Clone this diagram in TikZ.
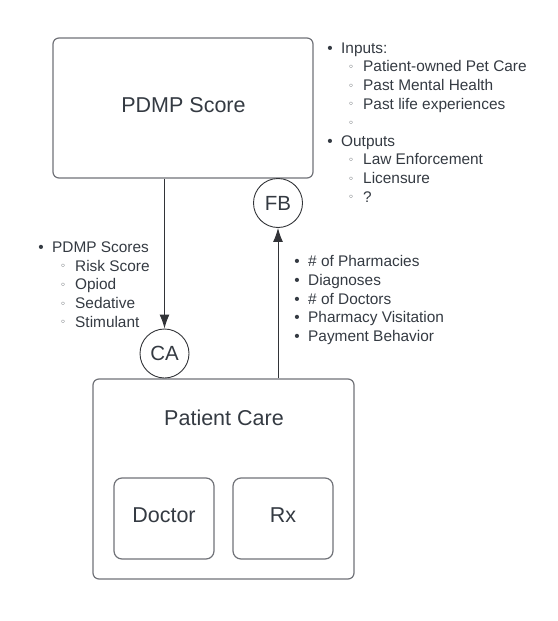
\documentclass[tikz,border=0pt]{standalone}
\usepackage{fontspec}
\setmainfont{Liberation Sans}
\newfontfamily\dvfont{DejaVu Sans}
\usetikzlibrary{arrows.meta}
\definecolor{textc}{RGB}{52,58,66}
\definecolor{linec}{RGB}{50,52,56}
\definecolor{boxc}{RGB}{112,114,120}
\tikzset{
  box/.style={draw=boxc, line width=1.2pt, rounded corners=6pt, inner sep=0pt},
  circ/.style={draw=linec, line width=0.9pt, circle, minimum size=49pt, inner sep=0pt, text=textc, font=\fontsize{20.5}{24}\selectfont},
  big/.style={anchor=base, text=textc, inner sep=0pt, font=\fontsize{21.5}{26}\selectfont},
  li/.style={anchor=base west, text=textc, inner sep=0pt, font=\fontsize{15.4}{18.6}\selectfont},
  bul/.style={anchor=base, text=textc, inner sep=0pt, font=\fontsize{15.4}{18.6}\selectfont},
  sbul/.style={anchor=base, text=textc, inner sep=0pt, font=\dvfont\fontsize{10}{12}\selectfont, yshift=1.5pt},
  arr/.style={draw=linec, line width=1pt, -{Latex[length=14pt,width=10pt]}}
}
\begin{document}
\begin{tikzpicture}[x=1pt,y=-1pt]
\useasboundingbox (0,0) rectangle (557,621);
% boxes
\node[box, minimum width=260pt, minimum height=140pt] (pdmp) at (183,108) {};
\node[big] (pdmpt) at (183.5,112.7) {PDMP Score};
\node[box, minimum width=261pt, minimum height=200pt] (pc) at (223.5,479) {};
\node[big] (pct) at (224,425) {Patient Care};
\node[box, rounded corners=8pt, minimum width=100pt, minimum height=81pt] (doc) at (164,518.5) {};
\node[big] (doct) at (164,522.7) {Doctor};
\node[box, rounded corners=8pt, minimum width=100pt, minimum height=81pt] (rx) at (283,518.5) {};
\node[big] (rxt) at (283,522.7) {Rx};
% circles
\node[circ] (ca) at (164.5,353.5) {CA};
\node[circ] (fb) at (278,203) {FB};
% arrows
\draw[arr] (ca.north |- pdmp.south) -- (ca.north);
\draw[arr] (fb.south |- pc.north) -- (fb.south);
% right top list
\node[bul] (b1) at (330,53.3) {•};
\node[li] (t1) at (341,53.3) {Inputs:};
\node[sbul] (b2) at (351,71.9) {◦};
\node[li] (t2) at (363,71.9) {Patient-owned Pet Care};
\node[sbul] (b3) at (351,90.5) {◦};
\node[li] (t3) at (363,90.5) {Past Mental Health};
\node[sbul] (b4) at (351,109.1) {◦};
\node[li] (t4) at (363,109.1) {Past life experiences};
\node[sbul] (b5) at (351,127.7) {◦};
\node[bul] (b6) at (330,146.3) {•};
\node[li] (t6) at (341,146.3) {Outputs};
\node[sbul] (b7) at (351,164.9) {◦};
\node[li] (t7) at (363,164.9) {Law Enforcement};
\node[sbul] (b8) at (351,183.5) {◦};
\node[li] (t8) at (363,183.5) {Licensure};
\node[sbul] (b9) at (351,202.1) {◦};
\node[li] (t9) at (363,202.1) {?};
% left list
\node[bul] (l1) at (41,252.7) {•};
\node[li] (lt1) at (52,252.7) {PDMP Scores};
\node[sbul] (l2) at (63,271.3) {◦};
\node[li] (lt2) at (75,271.3) {Risk Score};
\node[sbul] (l3) at (63,289.9) {◦};
\node[li] (lt3) at (75,289.9) {Opiod};
\node[sbul] (l4) at (63,308.5) {◦};
\node[li] (lt4) at (75,308.5) {Sedative};
\node[sbul] (l5) at (63,327.1) {◦};
\node[li] (lt5) at (75,327.1) {Stimulant};
% right lower list
\node[bul] (r1) at (297,266.7) {•};
\node[li] (rt1) at (308,266.7) {\# of Pharmacies};
\node[bul] (r2) at (297,285.4) {•};
\node[li] (rt2) at (308,285.4) {Diagnoses};
\node[bul] (r3) at (297,304.1) {•};
\node[li] (rt3) at (308,304.1) {\# of Doctors};
\node[bul] (r4) at (297,322.8) {•};
\node[li] (rt4) at (308,322.8) {Pharmacy Visitation};
\node[bul] (r5) at (297,341.5) {•};
\node[li] (rt5) at (308,341.5) {Payment Behavior};
\end{tikzpicture}
\end{document}
